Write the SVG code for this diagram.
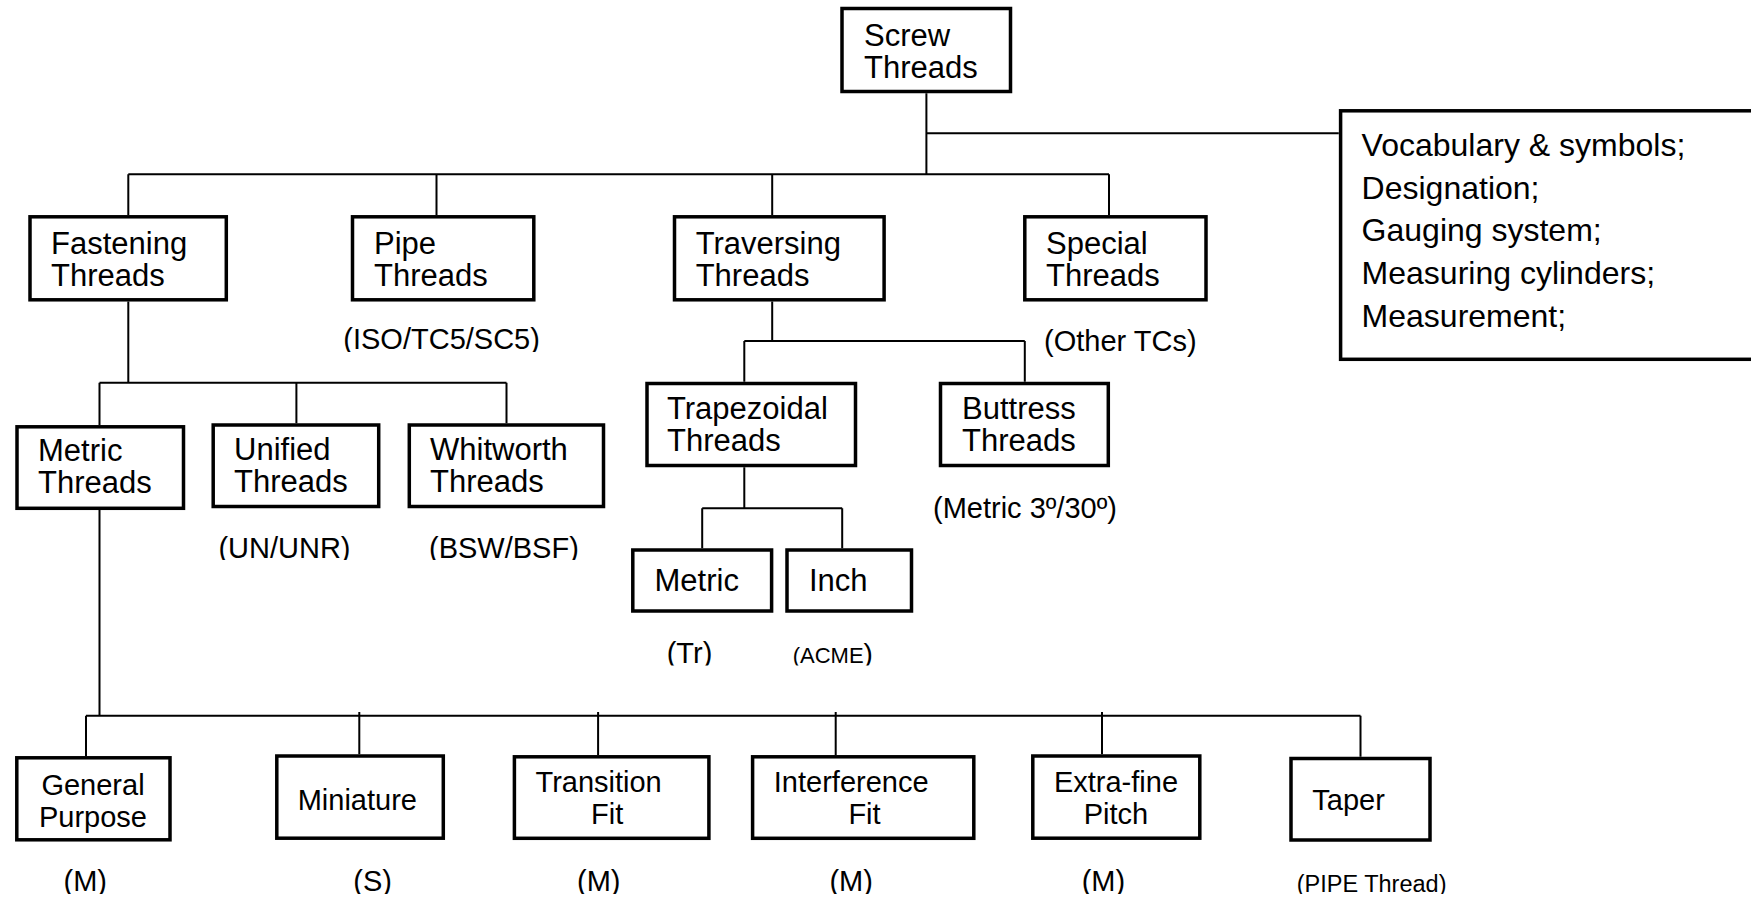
<svg xmlns="http://www.w3.org/2000/svg" width="1751" height="899" viewBox="0 0 1751 899">
<style>
.b{fill:#fff;stroke:#000;stroke-width:3.5}
.c{fill:none;stroke:#000;stroke-width:2}
text{font-family:"Liberation Sans",Arial,Helvetica,sans-serif;fill:#000}
.t{font-size:31px}
.s{font-size:29px}
.r{font-size:32px}
.l{font-size:29px}
.m{text-anchor:middle}
</style>
<defs>
<clipPath id="c1" clipPathUnits="userSpaceOnUse"><rect x="0" y="0" width="1751" height="352"/></clipPath>
<clipPath id="c2" clipPathUnits="userSpaceOnUse"><rect x="0" y="0" width="1751" height="560"/></clipPath>
<clipPath id="c3" clipPathUnits="userSpaceOnUse"><rect x="0" y="0" width="1751" height="665.5"/></clipPath>
<clipPath id="c4" clipPathUnits="userSpaceOnUse"><rect x="0" y="0" width="1751" height="894"/></clipPath>
</defs>
<rect width="1751" height="899" fill="#fff"/>
<g id="connectors">
<path class="c" d="M926.4 93.3V174.3M926.4 133.3H1338.8M128.3 174.3H1109M128.3 174.3V215M436.5 174.3V215M772.2 174.3V215M1109 174.3V215"/>
<path class="c" d="M128.3 301.5V382.7M99.5 382.7H506.5M99.5 382.7V425M296.4 382.7V423.3M506.5 382.7V423.3"/>
<path class="c" d="M772.2 301.5V341M744.3 341H1024.8M744.3 341V381.7M1024.8 341V381.7"/>
<path class="c" d="M744.3 467.3V508.3M702.2 508.3H842.2M702.2 508.3V548.3M842.2 508.3V548.3"/>
<path class="c" d="M99.5 510V715.7M86 715.7H1360.5M86 715.7V756M359.3 712V754.3M598.1 712V755M835.7 712V755M1102 712V754.3M1360.5 715.7V756.7"/>
</g>
<g id="screw">
<rect class="b" x="842" y="8.5" width="168.5" height="83"/>
<text class="t" x="864" y="46">Screw<tspan x="864" y="78">Threads</tspan></text>
</g>
<g id="notes">
<rect class="b" x="1340.6" y="110.8" width="420" height="248.5"/>
<text class="r" x="1361.6" y="156">Vocabulary &amp; symbols;<tspan x="1361.6" y="198.7">Designation;</tspan><tspan x="1361.6" y="241.4">Gauging system;</tspan><tspan x="1361.6" y="284.1">Measuring cylinders;</tspan><tspan x="1361.6" y="326.8">Measurement;</tspan></text>
</g>
<g id="fastening">
<rect class="b" x="30" y="216.8" width="196.3" height="83"/>
<text class="t" x="51" y="254">Fastening<tspan x="51" y="286">Threads</tspan></text>
</g>
<g id="pipe">
<rect class="b" x="352.5" y="216.8" width="181.3" height="83"/>
<text class="t" x="374" y="254">Pipe<tspan x="374" y="286">Threads</tspan></text>
<text class="l" x="343.3" y="349" clip-path="url(#c1)">(ISO/TC5/SC5)</text>
</g>
<g id="traversing">
<rect class="b" x="674.5" y="216.8" width="209.6" height="83"/>
<text class="t" x="695.7" y="254">Traversing<tspan x="695.7" y="286">Threads</tspan></text>
</g>
<g id="special">
<rect class="b" x="1024.8" y="216.8" width="181.2" height="83"/>
<text class="t" x="1046" y="254">Special<tspan x="1046" y="286">Threads</tspan></text>
<text class="l" x="1044" y="351">(Other TCs)</text>
</g>
<g id="metric-threads">
<rect class="b" x="17" y="426.8" width="166.5" height="81.5"/>
<text class="t" x="38" y="461">Metric<tspan x="38" y="493">Threads</tspan></text>
</g>
<g id="unified">
<rect class="b" x="213.2" y="425" width="165.5" height="81.5"/>
<text class="t" x="234" y="460">Unified<tspan x="234" y="492">Threads</tspan></text>
<text class="l" x="218.4" y="557.5" clip-path="url(#c2)">(UN/UNR)</text>
</g>
<g id="whitworth">
<rect class="b" x="409.3" y="425" width="194.2" height="81.5"/>
<text class="t" x="430" y="460">Whitworth<tspan x="430" y="492">Threads</tspan></text>
<text class="l" x="429" y="557.5" clip-path="url(#c2)">(BSW/BSF)</text>
</g>
<g id="trapezoidal">
<rect class="b" x="647" y="383.5" width="208.5" height="82"/>
<text class="t" x="667" y="419">Trapezoidal<tspan x="667" y="451">Threads</tspan></text>
</g>
<g id="buttress">
<rect class="b" x="940.5" y="383.5" width="167.8" height="82"/>
<text class="t" x="962" y="419">Buttress<tspan x="962" y="451">Threads</tspan></text>
<text class="l" x="933" y="518">(Metric 3º/30º)</text>
</g>
<g id="trap-metric">
<rect class="b" x="632.8" y="550" width="138.8" height="61"/>
<text class="t" x="654.5" y="591">Metric</text>
<text class="l" x="666.7" y="663" clip-path="url(#c3)">(Tr)</text>
</g>
<g id="trap-inch">
<rect class="b" x="787" y="550" width="124.5" height="61"/>
<text class="t" x="809" y="591">Inch</text>
<text x="792.7" y="663" clip-path="url(#c3)"><tspan style="font-size:22px">(ACME</tspan><tspan style="font-size:28px">)</tspan></text>
</g>
<g id="general-purpose">
<rect class="b" x="16.8" y="757.8" width="153.2" height="82"/>
<text class="s m" x="93" y="795">General<tspan x="93" y="827">Purpose</tspan></text>
<text class="l" x="63.5" y="891" clip-path="url(#c4)">(M)</text>
</g>
<g id="miniature">
<rect class="b" x="276.8" y="756" width="166.5" height="82.2"/>
<text class="s" x="297.7" y="810">Miniature</text>
<text class="l" x="353.3" y="891" clip-path="url(#c4)">(S)</text>
</g>
<g id="transition-fit">
<rect class="b" x="514.4" y="756.8" width="194.5" height="81.5"/>
<text class="s" x="535.5" y="791.7">Transition<tspan x="591" y="824">Fit</tspan></text>
<text class="l" x="577" y="891" clip-path="url(#c4)">(M)</text>
</g>
<g id="interference-fit">
<rect class="b" x="752.6" y="756.8" width="221.2" height="81.5"/>
<text class="s" x="773.8" y="791.7">Interference<tspan x="848.4" y="824">Fit</tspan></text>
<text class="l" x="829.4" y="891" clip-path="url(#c4)">(M)</text>
</g>
<g id="extra-fine-pitch">
<rect class="b" x="1032.8" y="756" width="167" height="82.2"/>
<text class="s m" x="1116" y="791.7">Extra-fine<tspan x="1116" y="824">Pitch</tspan></text>
<text class="l" x="1081.7" y="891" clip-path="url(#c4)">(M)</text>
</g>
<g id="taper">
<rect class="b" x="1291" y="758.5" width="139" height="81.5"/>
<text class="s" x="1312.3" y="810">Taper</text>
<text x="1296.7" y="892" style="font-size:23.5px" clip-path="url(#c4)">(PIPE Thread)</text>
</g>
</svg>
